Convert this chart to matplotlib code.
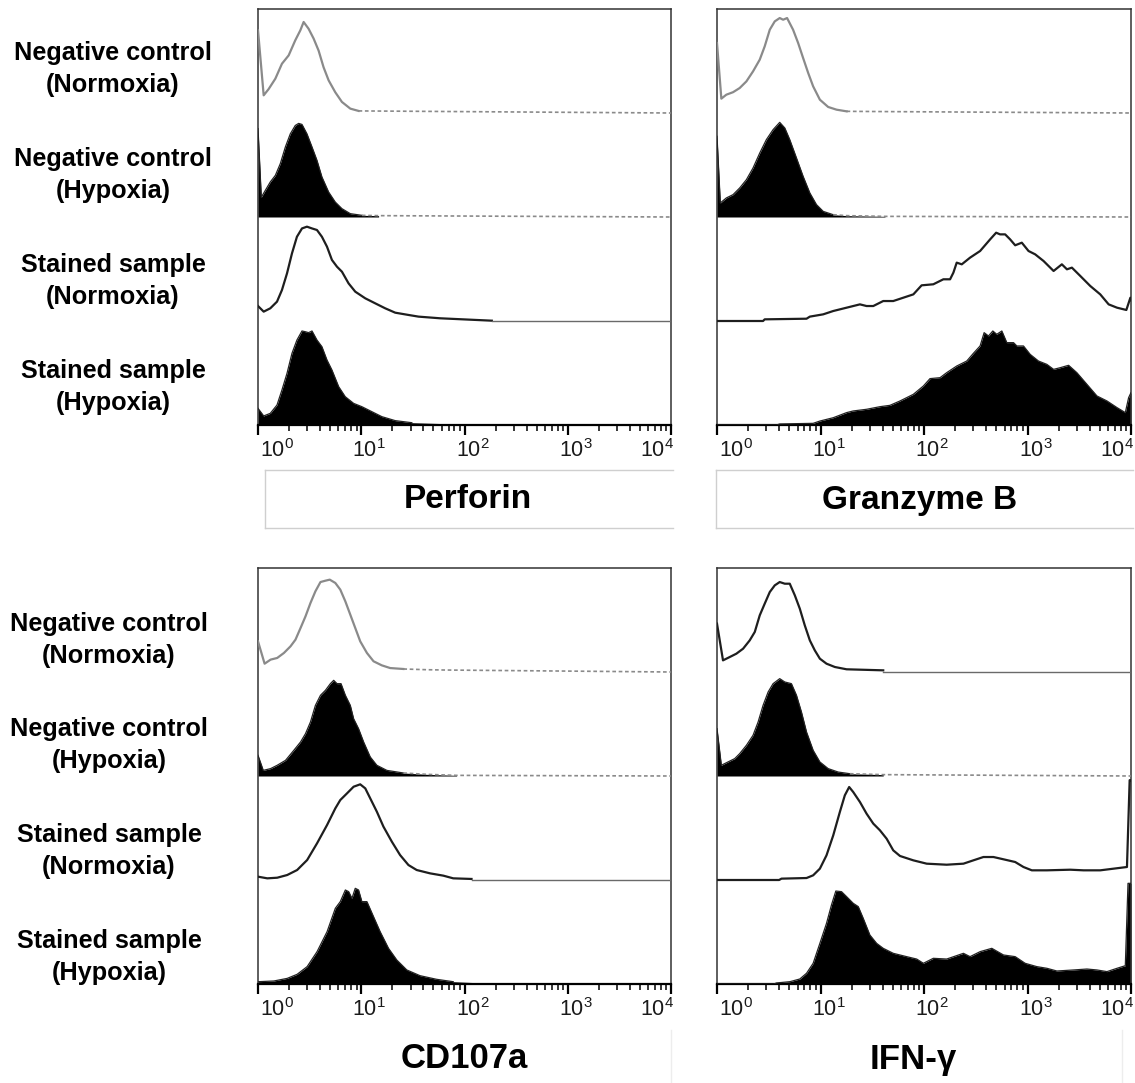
import numpy as np
import matplotlib
matplotlib.use("Agg")
import matplotlib.pyplot as plt
from matplotlib.lines import Line2D
from matplotlib.transforms import ScaledTranslation

plt.rcParams['font.family'] = ['Liberation Sans', 'DejaVu Sans']
plt.rcParams['mathtext.default'] = 'regular'

# ---------------- data (x: log10 fluorescence, y: fraction of row height) -------------
row_labels = ["Negative control\n(Normoxia)", "Negative control\n(Hypoxia)",
              "Stained sample\n(Normoxia)", "Stained sample\n(Hypoxia)"]
markers = ["Perforin", "Granzyme B", "CD107a", "IFN-\u03b3"]
tick_values = [1, 10, 100, 1000, 10000]
tick_labels = [r"$\mathregular{10^{0}}$", r"$\mathregular{10^{1}}$", r"$\mathregular{10^{2}}$",
               r"$\mathregular{10^{3}}$", r"$\mathregular{10^{4}}$"]

perf_neg_norm = [(0, 0.795), (0.055, 0.17), (0.103, 0.23), (0.168, 0.33), (0.232, 0.474), (0.297, 0.554),
                 (0.361, 0.699), (0.41, 0.795), (0.442, 0.875), (0.49, 0.81), (0.539, 0.715), (0.587, 0.60),
                 (0.635, 0.44), (0.684, 0.314), (0.748, 0.20), (0.813, 0.106), (0.894, 0.042), (0.974, 0.02)]
perf_neg_hyp = [(0, 0.85), (0.032, 0.19), (0.071, 0.256), (0.119, 0.337), (0.168, 0.40), (0.216, 0.513),
                (0.265, 0.673), (0.313, 0.80), (0.361, 0.88), (0.394, 0.90), (0.426, 0.89), (0.474, 0.80),
                (0.523, 0.673), (0.571, 0.545), (0.619, 0.385), (0.684, 0.24), (0.748, 0.144), (0.813, 0.08),
                (0.894, 0.032), (1.006, 0.016), (1.168, 0.013)]
perf_st_norm = [(0, 0.144), (0.055, 0.09), (0.119, 0.122), (0.184, 0.186), (0.232, 0.298), (0.281, 0.458),
                (0.329, 0.65), (0.377, 0.81), (0.426, 0.89), (0.474, 0.907), (0.523, 0.89), (0.571, 0.875),
                (0.619, 0.81), (0.668, 0.715), (0.716, 0.587), (0.765, 0.522), (0.813, 0.474), (0.877, 0.362),
                (0.942, 0.282), (1.039, 0.218), (1.135, 0.17), (1.232, 0.122), (1.329, 0.08), (1.458, 0.058),
                (1.555, 0.042), (1.765, 0.026), (2.265, 0.003)]
perf_st_hyp = [(0, 0.16), (0.055, 0.087), (0.119, 0.112), (0.184, 0.192), (0.232, 0.337), (0.281, 0.497),
               (0.329, 0.689), (0.377, 0.817), (0.426, 0.904), (0.458, 0.897), (0.49, 0.888), (0.523, 0.904),
               (0.571, 0.817), (0.619, 0.753), (0.668, 0.625), (0.716, 0.529), (0.781, 0.369), (0.845, 0.272),
               (0.926, 0.208), (1.006, 0.176), (1.103, 0.128), (1.2, 0.08), (1.329, 0.042), (1.49, 0.022),
               (1.91, 0.01), (1.94, 0.0)]

gzb_neg_norm = [(0, 0.673), (0.042, 0.138), (0.09, 0.176), (0.155, 0.2), (0.219, 0.24), (0.284, 0.304),
                (0.348, 0.40), (0.413, 0.513), (0.461, 0.641), (0.51, 0.801), (0.558, 0.881), (0.606, 0.913),
                (0.639, 0.897), (0.677, 0.913), (0.735, 0.801), (0.784, 0.673), (0.832, 0.529), (0.881, 0.385),
                (0.929, 0.256), (0.994, 0.128), (1.074, 0.058), (1.155, 0.032), (1.252, 0.016), (1.719, 0.013)]
gzb_neg_hyp = [(0, 0.776), (0.032, 0.135), (0.09, 0.183), (0.155, 0.215), (0.219, 0.279), (0.284, 0.359),
               (0.348, 0.471), (0.413, 0.615), (0.477, 0.744), (0.542, 0.84), (0.606, 0.91), (0.655, 0.856),
               (0.703, 0.744), (0.768, 0.567), (0.832, 0.391), (0.897, 0.231), (0.961, 0.119), (1.026, 0.054),
               (1.123, 0.022), (1.252, 0.013), (1.623, 0.006)]
gzb_st_norm = [(0, 0), (0.445, 0), (0.461, 0.016), (0.865, 0.022), (0.897, 0.042), (1.026, 0.064),
               (1.123, 0.096), (1.252, 0.128), (1.381, 0.16), (1.445, 0.144), (1.51, 0.144), (1.606, 0.192),
               (1.703, 0.192), (1.8, 0.224), (1.897, 0.256), (1.977, 0.343), (2.09, 0.353), (2.187, 0.401),
               (2.252, 0.401), (2.284, 0.465), (2.316, 0.561), (2.365, 0.545), (2.445, 0.609), (2.542, 0.673),
               (2.639, 0.785), (2.697, 0.849), (2.735, 0.833), (2.784, 0.833), (2.832, 0.785), (2.881, 0.728),
               (2.945, 0.753), (3.01, 0.673), (3.074, 0.641), (3.155, 0.577), (3.252, 0.481), (3.332, 0.545),
               (3.381, 0.497), (3.429, 0.513), (3.51, 0.433), (3.606, 0.337), (3.703, 0.256), (3.784, 0.16),
               (3.865, 0.128), (3.955, 0.106), (3.994, 0.224), (4.0, 0.2)]
gzb_st_hyp = [(0, 0), (0.574, 0), (0.606, 0.01), (0.929, 0.016), (0.994, 0.038), (1.123, 0.07), (1.252, 0.119),
              (1.316, 0.135), (1.445, 0.151), (1.574, 0.176), (1.671, 0.189), (1.768, 0.231), (1.897, 0.295),
              (1.994, 0.375), (2.058, 0.446), (2.155, 0.455), (2.219, 0.503), (2.316, 0.567), (2.413, 0.615),
              (2.477, 0.689), (2.542, 0.76), (2.581, 0.888), (2.623, 0.856), (2.665, 0.904), (2.703, 0.872),
              (2.752, 0.904), (2.8, 0.792), (2.865, 0.792), (2.897, 0.76), (2.961, 0.76), (3.026, 0.679),
              (3.106, 0.615), (3.187, 0.583), (3.252, 0.535), (3.316, 0.551), (3.397, 0.574), (3.477, 0.503),
              (3.574, 0.391), (3.671, 0.279), (3.768, 0.231), (3.865, 0.167), (3.945, 0.119), (3.977, 0.263),
              (4.0, 0.311)]

cd_neg_norm = [(0, 0.295), (0.064, 0.08), (0.122, 0.119), (0.186, 0.135), (0.251, 0.183), (0.315, 0.247),
               (0.363, 0.311), (0.412, 0.423), (0.46, 0.535), (0.508, 0.663), (0.556, 0.776), (0.605, 0.865),
               (0.653, 0.878), (0.695, 0.888), (0.749, 0.856), (0.797, 0.792), (0.846, 0.679), (0.894, 0.551),
               (0.942, 0.423), (0.99, 0.295), (1.055, 0.183), (1.119, 0.103), (1.199, 0.064), (1.28, 0.038),
               (1.408, 0.029), (1.633, 0.022), (1.81, 0.019)]
cd_neg_hyp = [(0, 0.199), (0.051, 0.054), (0.122, 0.071), (0.186, 0.103), (0.267, 0.151), (0.347, 0.247),
              (0.412, 0.327), (0.46, 0.407), (0.508, 0.519), (0.556, 0.679), (0.605, 0.776), (0.653, 0.824),
              (0.701, 0.888), (0.733, 0.92), (0.765, 0.888), (0.804, 0.888), (0.846, 0.776), (0.894, 0.679),
              (0.926, 0.551), (0.974, 0.455), (1.023, 0.327), (1.087, 0.183), (1.151, 0.103), (1.248, 0.054),
              (1.408, 0.029), (1.633, 0.016), (1.923, 0.006)]
cd_st_norm = [(0, 0.032), (0.09, 0.016), (0.186, 0.022), (0.283, 0.048), (0.379, 0.096), (0.476, 0.192),
              (0.572, 0.353), (0.669, 0.529), (0.749, 0.689), (0.797, 0.769), (0.862, 0.833), (0.926, 0.897),
              (0.99, 0.92), (1.039, 0.881), (1.087, 0.785), (1.151, 0.657), (1.215, 0.513), (1.296, 0.369),
              (1.376, 0.24), (1.457, 0.144), (1.537, 0.096), (1.666, 0.064), (1.794, 0.042), (1.891, 0.016),
              (2.068, 0.01)]
cd_st_hyp = [(0, 0.022), (0.154, 0.029), (0.283, 0.054), (0.379, 0.093), (0.476, 0.167), (0.572, 0.311),
             (0.669, 0.503), (0.749, 0.728), (0.797, 0.792), (0.846, 0.904), (0.878, 0.888), (0.91, 0.824),
             (0.942, 0.92), (0.974, 0.904), (1.006, 0.792), (1.055, 0.792), (1.119, 0.647), (1.183, 0.503),
             (1.264, 0.343), (1.344, 0.231), (1.441, 0.135), (1.569, 0.08), (1.73, 0.045), (1.891, 0.022),
             (2.18, 0.01), (2.22, 0.0)]

ifn_neg_norm = [(0, 0.465), (0.058, 0.112), (0.123, 0.144), (0.187, 0.176), (0.252, 0.224), (0.316, 0.304),
                (0.365, 0.385), (0.413, 0.545), (0.461, 0.657), (0.51, 0.769), (0.558, 0.833), (0.606, 0.865),
                (0.655, 0.849), (0.703, 0.849), (0.752, 0.737), (0.8, 0.609), (0.848, 0.449), (0.897, 0.304),
                (0.945, 0.208), (0.994, 0.128), (1.058, 0.08), (1.139, 0.048), (1.252, 0.026), (1.606, 0.016)]
ifn_neg_hyp = [(0, 0.455), (0.042, 0.103), (0.106, 0.135), (0.171, 0.167), (0.219, 0.215), (0.284, 0.295),
               (0.348, 0.391), (0.397, 0.519), (0.445, 0.679), (0.494, 0.808), (0.542, 0.888), (0.606, 0.936),
               (0.655, 0.904), (0.719, 0.888), (0.768, 0.776), (0.816, 0.615), (0.865, 0.423), (0.929, 0.247),
               (0.994, 0.135), (1.074, 0.071), (1.171, 0.038), (1.284, 0.022), (1.606, 0.013)]
ifn_st_norm = [(0, 0), (0.6, 0), (0.623, 0.013), (0.865, 0.019), (0.929, 0.045), (0.994, 0.109), (1.058, 0.237),
               (1.123, 0.429), (1.187, 0.654), (1.235, 0.814), (1.277, 0.894), (1.316, 0.846), (1.381, 0.75),
               (1.445, 0.638), (1.51, 0.542), (1.574, 0.478), (1.639, 0.397), (1.703, 0.285), (1.768, 0.231),
               (1.897, 0.189), (2.026, 0.157), (2.219, 0.147), (2.381, 0.157), (2.477, 0.189), (2.574, 0.221),
               (2.671, 0.221), (2.768, 0.199), (2.881, 0.173), (2.961, 0.125), (3.042, 0.093), (3.187, 0.093),
               (3.413, 0.099), (3.542, 0.093), (3.703, 0.093), (3.832, 0.109), (3.961, 0.125), (3.987, 0.96),
               (4.0, 0.96)]
ifn_st_hyp = [(0, 0), (0.55, 0), (0.574, 0.01), (0.703, 0.022), (0.8, 0.048), (0.865, 0.103), (0.929, 0.199),
              (0.994, 0.391), (1.058, 0.583), (1.106, 0.76), (1.148, 0.894), (1.203, 0.888), (1.252, 0.84),
              (1.316, 0.776), (1.365, 0.744), (1.413, 0.631), (1.477, 0.471), (1.542, 0.391), (1.606, 0.343),
              (1.703, 0.295), (1.832, 0.263), (1.929, 0.24), (1.994, 0.199), (2.09, 0.247), (2.219, 0.24),
              (2.381, 0.295), (2.445, 0.263), (2.542, 0.311), (2.655, 0.343), (2.768, 0.279), (2.881, 0.263),
              (2.977, 0.199), (3.09, 0.167), (3.187, 0.151), (3.284, 0.125), (3.445, 0.135), (3.574, 0.144),
              (3.671, 0.135), (3.768, 0.119), (3.865, 0.151), (3.945, 0.176), (3.971, 0.968), (4.0, 0.968)]

panel_curves = [
    [perf_neg_norm, perf_neg_hyp, perf_st_norm, perf_st_hyp],
    [gzb_neg_norm, gzb_neg_hyp, gzb_st_norm, gzb_st_hyp],
    [cd_neg_norm, cd_neg_hyp, cd_st_norm, cd_st_hyp],
    [ifn_neg_norm, ifn_neg_hyp, ifn_st_norm, ifn_st_hyp],
]

# ---------------- layout (pixels) ----------------
W, H = 1135, 1083
fig = plt.figure(figsize=(W / 100, H / 100), dpi=100)

def fx(px):
    return px / W

def fy(py):
    return 1 - py / H

panel_boxes = [(258, 9, 671, 425), (717, 9, 1131, 425), (258, 568, 671, 984), (717, 568, 1131, 984)]
row1_colors = ["#8a8a8a", "#8a8a8a", "#8a8a8a", "#1e1e1e"]
row1_tail_dotted = [True, True, True, False]
label_offsets_px = [19, 8, 8, 8, -14]
DOT = (0, (2.2, 1.6))

def tail_index(y):
    pk = int(np.argmax(y))
    for k in range(pk, len(y)):
        if y[k] <= 0.03:
            return k
    return len(y) - 1

for p, (l, t, r, b) in enumerate(panel_boxes):
    ax = fig.add_axes([fx(l), fy(b), fx(r) - fx(l), (b - t) / H])
    ax.set_xscale('log')
    ax.set_xlim(1, 1e4)
    ax.set_ylim(0, 4)
    for i, curve in enumerate(panel_curves[p]):
        arr = np.array(curve, dtype=float)
        xs = 10 ** arr[:, 0]
        base = 3 - i
        ys = base + arr[:, 1]
        k = tail_index(arr[:, 1])
        dotted = (i == 1) or (i == 0 and row1_tail_dotted[p])
        if i in (1, 3):
            ax.fill_between(xs, base, ys, color='black', lw=0, zorder=2)
            ax.plot(xs[:k + 1], ys[:k + 1], color='#222222', lw=0.9, zorder=3)
            main_end = k
        else:
            col = row1_colors[p] if i == 0 else '#1e1e1e'
            main_end = k if dotted else len(xs) - 1
            ax.plot(xs[:main_end + 1], ys[:main_end + 1], color=col, lw=1.6, zorder=3,
                    solid_joinstyle='round')
        if xs[-1] < 9999 or main_end < len(xs) - 1:
            tx = list(xs[main_end:]) + [1e4]
            ty = list(ys[main_end:]) + [base]
            if i == 3:
                continue
            if dotted:
                ax.plot(tx, ty, color='#8a8a8a', lw=1.2, linestyle=DOT, zorder=3)
            else:
                ax.plot([xs[-1], 1e4], [base, base], color='#6a6a6a', lw=1.0, zorder=3)
    ax.set_yticks([])
    ax.set_xticks(tick_values)
    ax.set_xticklabels(tick_labels)
    ax.tick_params(axis='x', which='major', direction='out', length=7, width=1.6,
                   labelsize=15.5, pad=3, colors='black', labelcolor='#1a1a1a')
    ax.tick_params(axis='x', which='minor', direction='out', length=4.5, width=1.1, colors='black')
    for lab, off in zip(ax.get_xticklabels(), label_offsets_px):
        lab.set_transform(lab.get_transform() + ScaledTranslation(off / 100, 0, fig.dpi_scale_trans))
    for s in ['top', 'right', 'left']:
        ax.spines[s].set_color('#333333')
        ax.spines[s].set_linewidth(1.1)
    ax.spines['bottom'].set_color('black')
    ax.spines['bottom'].set_linewidth(1.6)

# ---------------- marker titles ----------------
title_pos = [(468, 500), (920, 500), (464, 1059), (913, 1059)]
title_sizes = [24, 24, 25, 25]
for name, (px, py), fs in zip(markers, title_pos, title_sizes):
    fig.text(fx(px), fy(py), name, ha='center', va='center', fontsize=fs, fontweight='bold', color='black')

# light boxes around the top titles
for (x0, x1) in [(265, 673), (716, 1133)]:
    for seg in [((x0, x1), (470, 470)), ((x0, x1), (528, 528)), ((x0, x0), (470, 528))]:
        fig.add_artist(Line2D([fx(v) for v in seg[0]], [fy(v) for v in seg[1]],
                              color='#cfcfcf', lw=1.0))
for xv in [671, 1122]:
    fig.add_artist(Line2D([fx(xv), fx(xv)], [fy(1030), fy(1083)], color='#ededed', lw=1.0))

# ---------------- row labels ----------------
row_label_y = [[69, 175, 281, 387], [640, 745, 851, 957]]
row_label_x = [113, 109]
for blk in range(2):
    for lab, py in zip(row_labels, row_label_y[blk]):
        fig.text(fx(row_label_x[blk]), fy(py), lab, ha='center', va='center', fontsize=18.2,
                 fontweight='bold', linespacing=1.38, multialignment='center', color='black')

fig.savefig("out.png", dpi=100, facecolor='white')
